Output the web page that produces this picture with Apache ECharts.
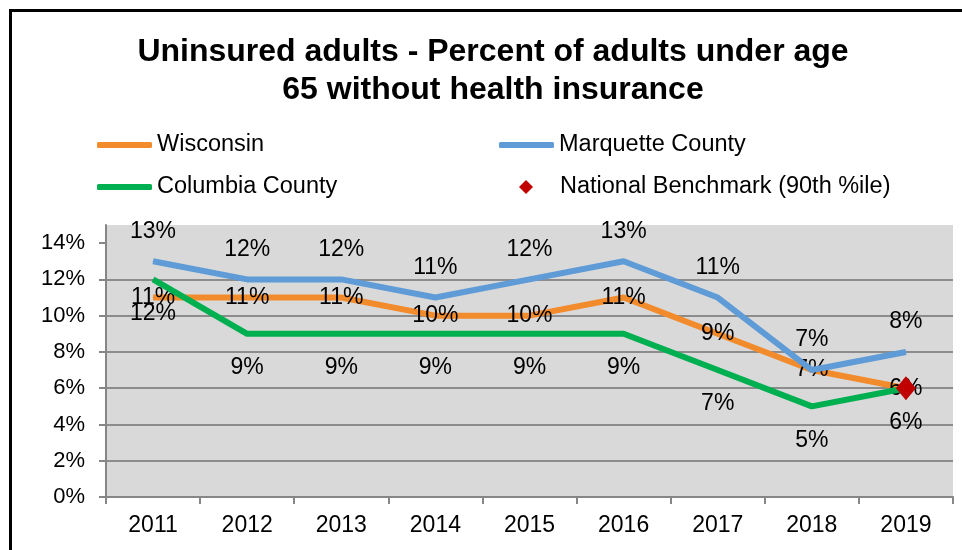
<!DOCTYPE html>
<html>
<head>
<meta charset="utf-8">
<style>
  html, body { margin: 0; padding: 0; background: #fff; }
  #chart { width: 962px; height: 550px; }
</style>
<script src="https://cdn.jsdelivr.net/npm/echarts@6/dist/echarts.min.js"></script>
</head>
<body>
<div id="chart"></div>
<script>
// Uninsured adults under 65, percent by year
const years = ['2011', '2012', '2013', '2014', '2015', '2016', '2017', '2018', '2019'];
const wisconsin = [11, 11, 11, 10, 10, 11, 9, 7, 6];
const marquette = [13, 12, 12, 11, 12, 13, 11, 7, 8];
const columbia = [12, 9, 9, 9, 9, 9, 7, 5, 6];
const benchmark = ['-', '-', '-', '-', '-', '-', '-', '-', 6];
const yTicks = [0, 2, 4, 6, 8, 10, 12, 14];

const FONT = "'Liberation Sans', Arial, sans-serif";
const AXIS_GRAY = '#868686';

const chart = echarts.init(document.getElementById('chart'));

function legendItem(name, left, top, extra) {
  return Object.assign({
    data: [name],
    left: left,
    top: top,
    orient: 'horizontal',
    icon: 'roundRect',
    itemWidth: 55,
    itemHeight: 6,
    padding: 0,
    selectedMode: false,
    textStyle: { fontFamily: FONT, fontSize: 23.5, color: '#000' }
  }, extra || {});
}

const lineLabel = (position, distance) => ({
  show: true,
  position: position,
  distance: distance,
  formatter: '{c}%',
  fontFamily: FONT,
  fontSize: 23,
  color: '#000'
});

// tiny point symbols keep the value labels attached to each point
const lineSeries = (name, data, color, label, z) => ({
  name: name,
  type: 'line',
  data: data,
  symbol: 'circle',
  symbolSize: 1,
  showSymbol: true,
  lineStyle: { color: color, width: 6 },
  itemStyle: { color: color },
  label: label,
  z: z
});

chart.setOption({
  animation: false,
  backgroundColor: '#fff',
  title: {
    text: 'Uninsured adults - Percent of adults under age\n65 without health insurance',
    left: 488,
    top: 28,
    textAlign: 'center',
    textStyle: {
      fontFamily: FONT,
      fontSize: 32,
      fontWeight: 'bold',
      color: '#000',
      lineHeight: 38
    }
  },
  legend: [
    legendItem('Wisconsin', 97, 133),
    legendItem('Marquette County', 499, 133),
    legendItem('Columbia County', 97, 175),
    legendItem('National Benchmark (90th %ile)', 519, 175, {
      icon: 'diamond',
      itemWidth: 14,
      itemHeight: 14,
      textStyle: { fontFamily: FONT, fontSize: 23.5, color: '#000', padding: [0, 0, 0, 22] }
    })
  ],
  grid: {
    left: 106,
    right: 9,
    top: 225,
    bottom: 53,
    show: true,
    backgroundColor: '#d9d9d9',
    borderWidth: 0
  },
  xAxis: {
    type: 'category',
    data: years,
    boundaryGap: true,
    axisLine: { lineStyle: { color: AXIS_GRAY, width: 2 } },
    axisTick: { show: true, length: 7, alignWithLabel: false, lineStyle: { color: AXIS_GRAY, width: 2 } },
    axisLabel: { fontFamily: FONT, fontSize: 23, color: '#000', margin: 17 },
    splitLine: { show: false }
  },
  yAxis: {
    type: 'value',
    min: 0,
    max: 15,
    interval: 2,
    axisLine: { show: true, lineStyle: { color: AXIS_GRAY, width: 2 } },
    axisTick: { show: true, length: 7, customValues: yTicks, lineStyle: { color: AXIS_GRAY, width: 2 } },
    axisLabel: {
      fontFamily: FONT, fontSize: 22, color: '#000', margin: 21,
      customValues: yTicks,
      formatter: '{value}%'
    },
    splitLine: { show: true, showMaxLine: false, lineStyle: { color: '#8c8c8c', width: 2 } }
  },
  series: [
    lineSeries('Wisconsin', wisconsin, '#f28b2c', lineLabel('inside', 0), 2),
    lineSeries('Marquette County', marquette, '#5f9bd6', lineLabel('top', 18), 3),
    lineSeries('Columbia County', columbia, '#00b050', lineLabel('bottom', 22), 4),
    {
      name: 'National Benchmark (90th %ile)',
      type: 'scatter',
      data: benchmark,
      symbol: 'diamond',
      symbolSize: [20, 24],
      itemStyle: { color: '#c00000', opacity: 1 },
      label: { show: false },
      z: 5
    }
  ],
  graphic: [
    {
      type: 'polyline',
      shape: { points: [[10.5, 550], [10.5, 10.5], [962, 10.5]] },
      style: { stroke: '#000', lineWidth: 3, fill: null },
      silent: true,
      z: 100
    }
  ]
});
</script>
</body>
</html>
